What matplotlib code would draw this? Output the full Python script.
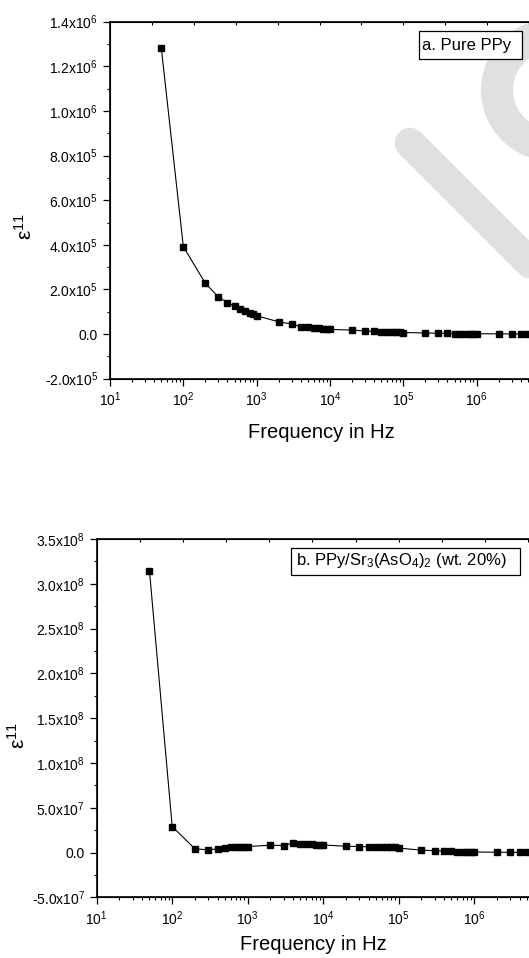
import math

import matplotlib
matplotlib.use("Agg")
import matplotlib.pyplot as plt
from matplotlib.ticker import FixedLocator, FuncFormatter, LogLocator, NullFormatter
from matplotlib.transforms import Affine2D
from matplotlib.patches import Rectangle, Wedge
from matplotlib.lines import Line2D

plt.rcParams["font.family"] = ["Liberation Sans", "DejaVu Sans"]
plt.rcParams["mathtext.default"] = "regular"

W, H = 529, 958

# frequency points (Hz), shared by both panels
freq = [50, 100, 200, 300, 400, 500, 600, 700, 800, 900,
        1e3, 2e3, 3e3, 4e3, 5e3, 6e3, 7e3, 8e3, 9e3,
        1e4, 2e4, 3e4, 4e4, 5e4, 6e4, 7e4, 8e4, 9e4,
        1e5, 2e5, 3e5, 4e5, 5e5, 6e5, 7e5, 8e5, 9e5,
        1e6, 2e6, 3e6, 4e6, 5e6]

# a. pure PPy
eps_a = [1.284e6, 3.92e5, 2.27e5, 1.67e5, 1.41e5, 1.25e5, 1.12e5, 1.03e5, 9.6e4, 8.8e4,
         8.2e4, 5.5e4, 4.5e4, 3.3e4, 3.0e4, 2.8e4, 2.6e4, 2.4e4, 2.3e4,
         2.1e4, 1.8e4, 1.4e4, 1.2e4, 1.1e4, 1.0e4, 9.0e3, 8.0e3, 7.5e3,
         7.0e3, 5.0e3, 3.5e3, 3.0e3, 2.5e3, 2.2e3, 2.0e3, 1.8e3, 1.6e3,
         1.5e3, 1.0e3, 8e2, 7e2, 6e2]

# b. PPy/Sr3(AsO4)2 (wt. 20%)
eps_b = [3.144e8, 2.9e7, 4.1e6, 3.0e6, 4.1e6, 4.5e6, 5.6e6, 5.9e6, 6.3e6, 6.7e6,
         6.7e6, 8.1e6, 7.8e6, 1.08e7, 1.0e7, 9.7e6, 9.4e6, 8.9e6, 8.5e6,
         8.5e6, 6.9e6, 6.7e6, 6.4e6, 6.3e6, 6.2e6, 6.0e6, 5.9e6, 5.7e6,
         5.0e6, 2.6e6, 2.0e6, 1.6e6, 1.3e6, 1.1e6, 9e5, 8e5, 7e5,
         6e5, 3e5, 2e5, 2e5, 2e5]

xticks = [1e1, 1e2, 1e3, 1e4, 1e5, 1e6]
yticks_a = [-2e5, 0, 2e5, 4e5, 6e5, 8e5, 1.0e6, 1.2e6, 1.4e6]
yticks_b = [-5e7, 0, 5e7, 1.0e8, 1.5e8, 2.0e8, 2.5e8, 3.0e8, 3.5e8]
label_a = "a. Pure PPy"
label_b = "b. PPy/Sr$_3$(AsO$_4$)$_2$ (wt. 20%)"


def sci_fmt(v, pos=None):
    if v == 0:
        return "0.0"
    exp = 0
    m = abs(v)
    while m >= 10:
        m /= 10
        exp += 1
    sign = "-" if v < 0 else ""
    return f"{sign}{m:.1f}x10$^{{{exp}}}$"


def log_fmt(v, pos=None):
    return f"10$^{{{int(round(math.log10(v)))}}}$"


fig = plt.figure(figsize=(W / 100, H / 100), dpi=100)
px = Affine2D().scale(1 / W, -1 / H).translate(0, 1) + fig.transFigure

# faint watermark behind the plots
fig.add_artist(Line2D([410, 600], [143, 333], transform=px, color="#e0e0e0",
                      lw=22, solid_capstyle="round", zorder=-1))
fig.add_artist(Wedge((552, 90), 71, 0, 360, width=32, transform=px,
                     color="#e0e0e0", lw=0, zorder=-1))


def panel(rect, y, ylim, yticks):
    ax = fig.add_axes(rect)
    ax.set_facecolor("none")
    ax.plot(freq, y, color="black", lw=0.8, marker="s", ms=5,
            mfc="black", mec="black")
    ax.set_xscale("log")
    ax.set_xlim(10, 1e7)
    ax.set_ylim(*ylim)
    ax.xaxis.set_major_locator(FixedLocator(xticks))
    ax.xaxis.set_minor_locator(LogLocator(base=10, subs=[2, 3, 4, 5, 6, 7, 8, 9], numticks=20))
    ax.xaxis.set_major_formatter(FuncFormatter(log_fmt))
    ax.xaxis.set_minor_formatter(NullFormatter())
    ax.yaxis.set_major_locator(FixedLocator(yticks))
    half = (yticks[1] - yticks[0]) / 2
    ax.yaxis.set_minor_locator(FixedLocator([t + half for t in yticks[:-1]]))
    ax.yaxis.set_major_formatter(FuncFormatter(sci_fmt))
    for s in ax.spines.values():
        s.set_linewidth(1.2)
    ax.tick_params(which="major", direction="out", length=5, width=0.9, labelsize=10,
                   top=False, right=False)
    ax.tick_params(which="minor", direction="out", length=2.5, width=0.8,
                   top=False, right=False)
    # evenly spaced marks along the top edge
    tw = ax.twiny()
    tw.set_xlim(0, 10.5)
    tw.xaxis.set_major_locator(FixedLocator(list(range(1, 11))))
    tw.tick_params(axis="x", direction="in", length=2.5, width=0.8, labeltop=False)
    return ax


ax_a = panel([110 / W, 1 - 378.7 / H, 440 / W, 357 / H], eps_a, (-2e5, 1.4e6), yticks_a)
ax_b = panel([96.7 / W, 1 - 897.3 / H, 453 / W, 358.3 / H], eps_b, (-5e7, 3.5e8), yticks_b)

# axis titles
fig.text(321, 432, "Frequency in Hz", transform=px, fontsize=14.5, ha="center", va="center")
fig.text(313, 945, "Frequency in Hz", transform=px, fontsize=14.5, ha="center", va="center")
fig.text(25, 226, "ε$^{11}$", transform=px, fontsize=15, rotation=90, ha="center", va="center")
fig.text(18, 735, "ε$^{11}$", transform=px, fontsize=15, rotation=90, ha="center", va="center")

# panel labels in boxes
fig.add_artist(Rectangle((419.3, 31.3), 102.4, 27.7, transform=px, fc="white",
                         ec="black", lw=0.9, zorder=2))
fig.text(422, 45.5, label_a, transform=px, fontsize=12, ha="left", va="center", zorder=3)
fig.add_artist(Rectangle((291, 548.3), 229, 26.7, transform=px, fc="white",
                         ec="black", lw=0.9, zorder=2))
fig.text(296, 561, label_b, transform=px, fontsize=12, ha="left", va="center", zorder=3)

fig.savefig("out.png", dpi=100)
